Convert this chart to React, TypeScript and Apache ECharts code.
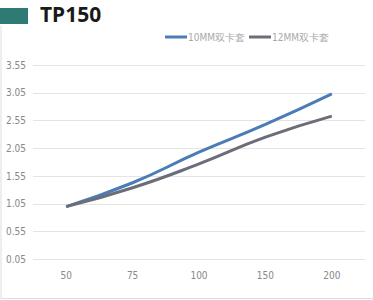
import React, { useEffect, useRef } from "react";
import * as echarts from "echarts";

const categories = ["50", "75", "100", "150", "200"];
const series10mm = [1.0, 1.43, 1.98, 2.48, 3.03];
const series12mm = [1.0, 1.34, 1.77, 2.25, 2.63];
const seriesNames = ["10MM双卡套", "12MM双卡套"];
// y-axis labels run 0.05, 0.55 ... 3.55
const axisOffset = 0.05;
const axisMaxShifted = 3.5;
const axisInterval = 0.5;

const labelFont = "'Liberation Sans Narrow', 'DejaVu Sans Condensed', sans-serif";

export default function App() {
  const ref = useRef<HTMLDivElement>(null);
  useEffect(() => {
    if (!ref.current) return;
    const chart = echarts.init(ref.current, undefined, { renderer: "svg" });
    chart.setOption({
      animation: false,
      backgroundColor: "#ffffff",
      grid: { left: 33, right: 8, top: 65, bottom: 40.6 },
      graphic: [
        { type: "rect", shape: { x: 0, y: 8, width: 28, height: 16 }, style: { fill: "#2e7a74" } },
        {
          type: "text",
          left: 40,
          top: 3,
          style: { text: "TP150", fill: "#1a1a1a", font: "bold 21px 'Noto Sans', sans-serif" },
        },
        {
          type: "polyline",
          shape: { points: [[1, 26], [1, 298.5], [373, 298.5]] },
          style: { stroke: "#dddddd", lineWidth: 1, fill: "none" },
          silent: true,
        },
      ],
      legend: {
        left: 160,
        top: 27,
        itemWidth: 22,
        itemHeight: 3,
        itemGap: 4,
        icon: "rect",
        textStyle: { color: "#a8a8a8", fontSize: 10, fontFamily: labelFont, padding: [0, 0, 0, -4] },
        data: seriesNames,
      },
      xAxis: {
        type: "category",
        data: categories,
        boundaryGap: true,
        axisLine: { show: false },
        axisTick: { show: false },
        axisLabel: { color: "#888", fontSize: 10, fontFamily: labelFont, margin: 11 },
      },
      yAxis: {
        type: "value",
        min: 0,
        max: axisMaxShifted,
        interval: axisInterval,
        axisLine: { show: false },
        axisTick: { show: false },
        axisLabel: {
          color: "#888",
          fontSize: 10,
          fontFamily: labelFont,
          margin: 7,
          formatter: (v: number) => (v + axisOffset).toFixed(2),
        },
        splitLine: { lineStyle: { color: "#e4e4e4", width: 1 } },
      },
      series: [
        {
          name: seriesNames[0],
          type: "line",
          smooth: true,
          showSymbol: false,
          data: series10mm.map((v) => +(v - axisOffset).toFixed(3)),
          lineStyle: { color: "#4a7cb6", width: 3 },
          itemStyle: { color: "#4a7cb6" },
        },
        {
          name: seriesNames[1],
          type: "line",
          smooth: true,
          showSymbol: false,
          data: series12mm.map((v) => +(v - axisOffset).toFixed(3)),
          lineStyle: { color: "#6b6e78", width: 3 },
          itemStyle: { color: "#6b6e78" },
        },
      ],
    });
    return () => chart.dispose();
  }, []);
  return (
    <div
      ref={ref}
      style={{ position: "absolute", left: 0, top: 0, width: 373, height: 300 }}
    />
  );
}
